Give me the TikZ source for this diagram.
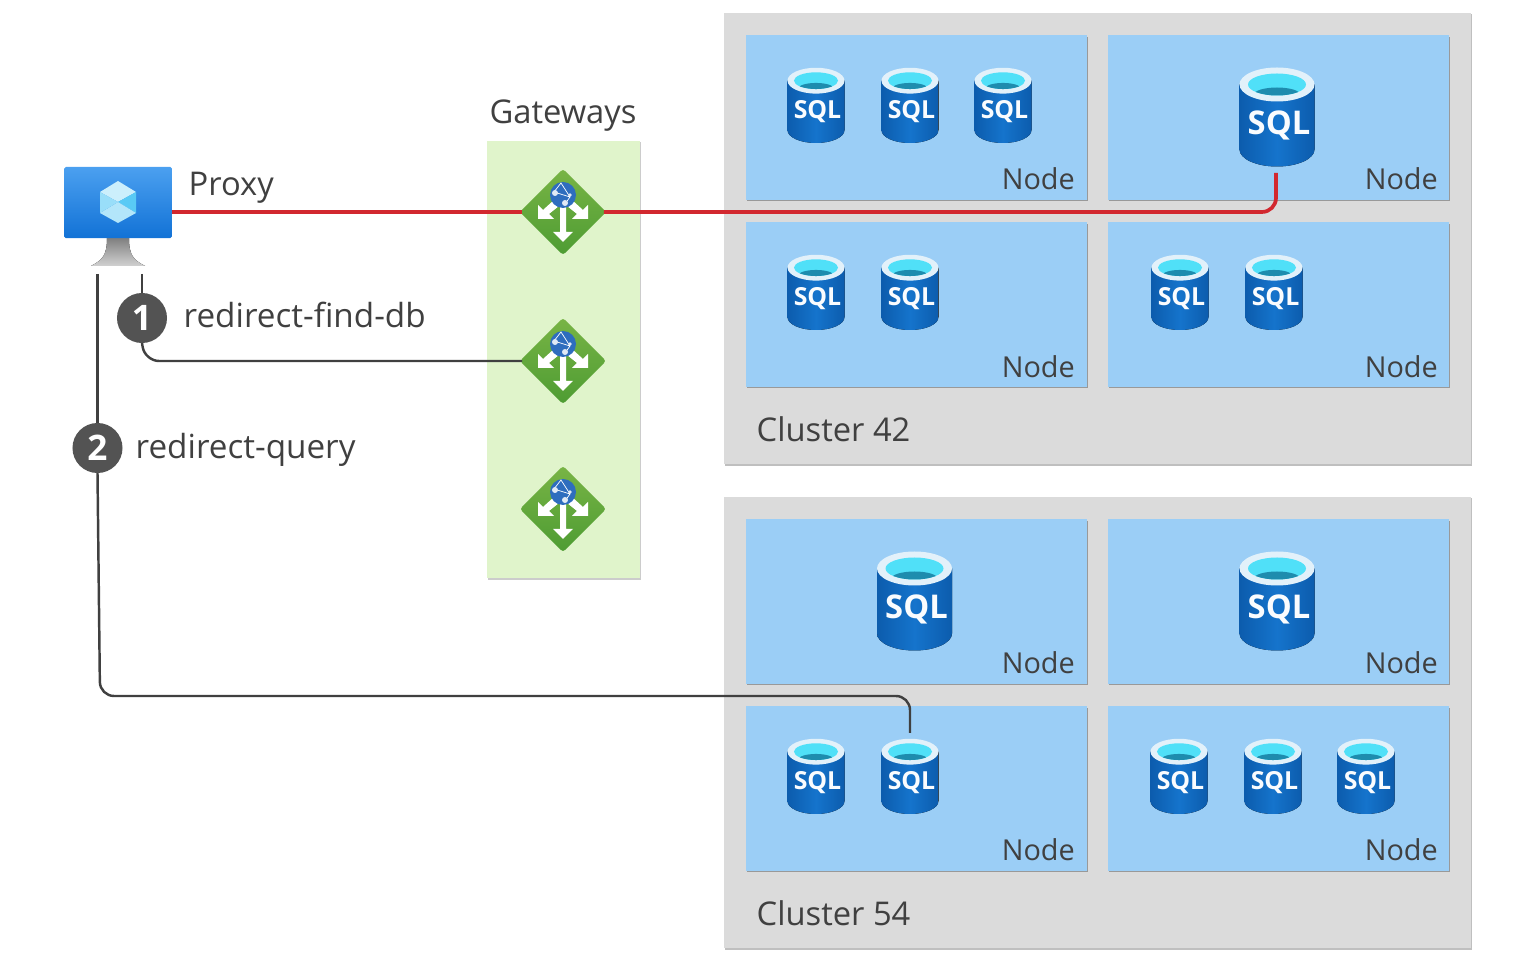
\documentclass[tikz,border=0pt]{standalone}
\usepackage{fontspec}
\setmainfont{Open Sans}
\usetikzlibrary{arrows.meta}
\usetikzlibrary{positioning}
\usetikzlibrary{shadows}
\usetikzlibrary{shapes.geometric}
\definecolor{clustergray}{HTML}{DBDBDB}
\definecolor{nodeblue}{HTML}{9BCEF6}
\definecolor{gatewaygreen}{HTML}{E0F4CB}
\definecolor{linered}{HTML}{D2282F}
\definecolor{linedark}{HTML}{404040}
\definecolor{textdark}{HTML}{404040}
\definecolor{dbside}{HTML}{0C5CAD}
\definecolor{dbmiddle}{HTML}{1574CC}
\definecolor{dbrim}{HTML}{E2F1FA}
\definecolor{dbwater}{HTML}{50E0F8}
\definecolor{dbdeep}{HTML}{1E8CAE}
\definecolor{gwtop}{HTML}{78B445}
\definecolor{gwbottom}{HTML}{4E9C33}
\definecolor{globeblue}{HTML}{2E6DBE}
\definecolor{screentop}{HTML}{4BA0F0}
\definecolor{screenbottom}{HTML}{1272D6}

\tikzset{
    sqlicon/.pic={
        \fill[left color=dbside, right color=dbside, middle color=dbmiddle]
            (-37.5,-32) -- (-37.5,33) arc[start angle=180, end angle=0, x radius=37.5, y radius=17]
            -- (37.5,-32) -- cycle;
        \fill[dbrim] (0,-32) ellipse[x radius=37.5, y radius=17];
        \fill[dbwater] (0,-32) ellipse[x radius=29, y radius=11];
        \begin{scope}
            \clip (0,-32) ellipse[x radius=29, y radius=11];
            \fill[dbdeep] (0,-22) ellipse[x radius=23, y radius=7];
        \end{scope}
        \node[font=\bfseries\fontsize{9.3}{10}\selectfont, text=white!95!nodeblue, transform shape, inner sep=0pt] (-label) at (2,9) {SQL};
    },
    gatewayarrows/.pic={
        \fill[white] (-3,-14) -- (3,-14) -- (3,20) -- (10,20) -- (0,30) -- (-10,20) -- (-3,20) -- cycle;
        \fill[white] (-25,7) -- (-25,-7) -- (-20,-2) -- (-9,-12) -- (-4,-6) -- (-14,2) -- (-9,7) -- cycle;
        \fill[white] (25,7) -- (25,-7) -- (20,-2) -- (9,-12) -- (4,-6) -- (14,2) -- (9,7) -- cycle;
        \fill[globeblue] (0,-17) circle[radius=13];
        \draw[white, line width=0.2pt] (-9,-20) -- (7,-15) -- (2,-8) (-9,-20) -- (-2,-29) -- (7,-15);
        \fill[white!85!globeblue] (-8,-19) circle[radius=3];
        \fill[white!85!globeblue] (2,-9) circle[radius=3];
        \fill[white!85!globeblue] (7,-17) circle[radius=1.8];
    },
    clusterbox/.style={rectangle, anchor=north west, fill=clustergray, minimum width=7.47cm, minimum height=4.51cm, inner sep=0pt, outer sep=0pt,
        drop shadow={shadow xshift=0.4pt, shadow yshift=-0.4pt, opacity=1, fill=black!25}},
    nodebox/.style={rectangle, anchor=north west, fill=nodeblue, minimum width=3.405cm, minimum height=1.64cm, inner sep=0pt, outer sep=0pt,
        drop shadow={shadow xshift=0.4pt, shadow yshift=-0.5pt, opacity=1, fill=black!40}},
    gateway/.style={diamond, aspect=1, minimum width=0.86cm, minimum height=0.86cm, inner sep=0pt, outer sep=0pt, rounded corners=0.8pt,
        top color=gwtop, bottom color=gwbottom},
    badge/.style={circle, fill=linedark!90!white, text=white, minimum size=0.5cm, inner sep=0pt, outer sep=0pt, font=\bfseries\fontsize{10}{12}\selectfont},
    bodytext/.style={text=textdark, font=\fontsize{9.3}{11}\selectfont, inner sep=0pt},
    redirtext/.style={text=textdark, font=\fontsize{9.45}{11}\selectfont, inner sep=0pt},
    nodetext/.style={text=textdark, font=\fontsize{8.2}{10}\selectfont, inner sep=0pt},
    redline/.style={draw=linered, line width=1.05pt, rounded corners=4pt},
    darkline/.style={draw=linedark, line width=0.7pt, rounded corners=4pt},
    smalldb/.style={scale=0.76, transform shape},
}

\begin{document}
\begin{tikzpicture}[x=0.01cm, y=-0.01cm]
    \useasboundingbox (0,0) rectangle (1532,961);

    % Clusters
    \node[clusterbox] (clustera) at (723.5,13) {};
    \node[clusterbox] (clusterb) at (723.5,497) {};

    % Cluster 42
    \node[nodebox] (na1) at (746,35.5) {};
    \node[nodebox] (na2) at (1108,35.5) {};
    \node[nodebox] (na3) at (746,222.5) {};
    \node[nodebox] (na4) at (1108,222.5) {};

    % Cluster 54
    \node[nodebox] (nb1) at (746,519.5) {};
    \node[nodebox] (nb2) at (1108,519.5) {};
    \node[nodebox] (nb3) at (746,706.5) {};
    \node[nodebox] (nb4) at (1108,706.5) {};

    % Textos
    \node[nodetext, anchor=base east] (tna1) at (1075.5,190) {Node};
    \node[nodetext, anchor=base east] (tna2) at (1438.5,190) {Node};
    \node[nodetext, anchor=base east] (tna3) at (1075.5,378) {Node};
    \node[nodetext, anchor=base east] (tna4) at (1438.5,378) {Node};
    \node[nodetext, anchor=base east] (tnb1) at (1075.5,674) {Node};
    \node[nodetext, anchor=base east] (tnb2) at (1438.5,674) {Node};
    \node[nodetext, anchor=base east] (tnb3) at (1075.5,861) {Node};
    \node[nodetext, anchor=base east] (tnb4) at (1438.5,861) {Node};
    \node[bodytext, anchor=base west] (tclustera) at (756,442) {Cluster 42};
    \node[bodytext, anchor=base west] (tclusterb) at (756,926) {Cluster 54};

    % Bases de datos
    \pic[smalldb] (dba1) at (816,105) {sqlicon};
    \pic[smalldb] (dba2) at (910,105) {sqlicon};
    \pic[smalldb] (dba3) at (1003,105) {sqlicon};
    \pic (dba4) at (1277,116.5) {sqlicon};
    \pic[smalldb] (dba5) at (816,292) {sqlicon};
    \pic[smalldb] (dba6) at (910,292) {sqlicon};
    \pic[smalldb] (dba7) at (1180,292) {sqlicon};
    \pic[smalldb] (dba8) at (1274,292) {sqlicon};
    \pic (dbb1) at (914.5,600.5) {sqlicon};
    \pic (dbb2) at (1277,600.5) {sqlicon};
    \pic[smalldb] (dbb3) at (816,776) {sqlicon};
    \pic[smalldb] (dbb4) at (910,776) {sqlicon};
    \pic[smalldb] (dbb5) at (1179,776) {sqlicon};
    \pic[smalldb] (dbb6) at (1273,776) {sqlicon};
    \pic[smalldb] (dbb7) at (1366,776) {sqlicon};

    % Gateways
    \node[rectangle, anchor=north west, fill=gatewaygreen, minimum width=1.53cm, minimum height=4.37cm, inner sep=0pt, outer sep=0pt,
        drop shadow={shadow xshift=0.3pt, shadow yshift=-0.4pt, opacity=1, fill=black!20}] (gatewaypanel) at (487,141) {};
    \node[bodytext, anchor=base] (tgateways) at (563,123.5) {Gateways};
    \node[gateway] (gwa) at (563,212) {};
    \node[gateway] (gwb) at (563,361) {};
    \node[gateway] (gwc) at (563,509) {};
    \pic at (gwa) {gatewayarrows};
    \pic at (gwb) {gatewayarrows};
    \pic at (gwc) {gatewayarrows};

    % Proxy
    \fill[top color=black!50, bottom color=black!18] (107,238) -- (129,238) .. controls (129,256) and (134,260) .. (145,266) -- (91,266) .. controls (102,260) and (107,256) .. (107,238) -- cycle;
    \node[rectangle, anchor=north west, rounded corners=0.5pt, top color=screentop, bottom color=screenbottom, minimum width=1.08cm, minimum height=0.71cm, inner sep=0pt, outer sep=0pt] (proxy) at (64,167) {};
    \fill[cyan!20!white] (118,181) -- (136,192) -- (118,202) -- (100,192) -- cycle;
    \fill[cyan!65!white] (118,202) -- (136,192) -- (136,213) -- cycle;
    \fill[cyan!30!white] (118,202) -- (136,213) -- (118,223) -- (100,213) -- cycle;
    \fill[cyan!40!white] (118,202) -- (100,192) -- (100,213) -- cycle;
    \node[bodytext, anchor=base west] (tproxy) at (188,196) {Proxy};

    % Etiquetas numeradas
    \node[badge] (badgea) at (142,318) {1};
    \node[badge] (badgeb) at (97.5,448) {2};
    \node[redirtext, anchor=base west] (tfind) at (183,328) {redirect-find-db};
    \node[redirtext, anchor=base west] (tquery) at (135,459) {redirect-query};

    % Extremos libres
    \coordinate (redend) at (1276,173);
    \coordinate (findstart) at (142,274);
    \coordinate (findturn) at (145,361);
    \coordinate (querystart) at (97.5,274);
    \coordinate (queryturn) at (100,696);
    \coordinate (queryend) at (910,733);

    % Conexiones
    \draw[redline, shorten >=-0.6pt] (proxy.east |- gwa) -- (gwa.west);
    \draw[redline, shorten <=-0.6pt] (gwa.east) -| (redend);
    \draw[darkline] (findstart) -- (badgea.north);
    \draw[darkline, shorten >=-0.6pt] (badgea.south) -- (findturn) -- (gwb.west);
    \draw[darkline] (querystart) -- (badgeb.north);
    \draw[darkline] (badgeb.south) -- (queryturn) -- (queryturn -| queryend) -- (queryend);
\end{tikzpicture}
\end{document}
